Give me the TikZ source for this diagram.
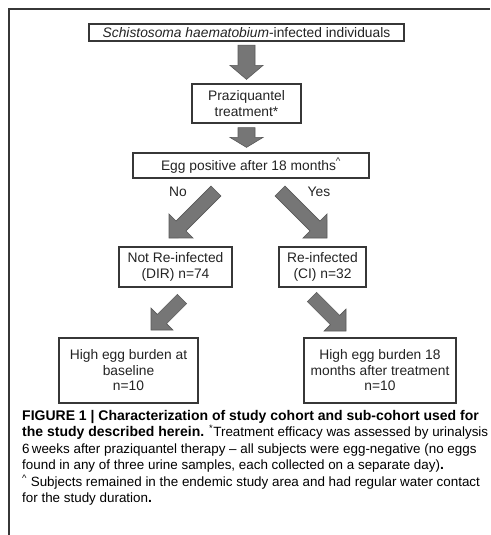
\documentclass[tikz,border=0pt]{standalone}
\usepackage{fontspec}
\setmainfont{Liberation Sans}
\usepackage{xcolor}
\usetikzlibrary{calc}
\definecolor{corSeta}{RGB}{118,118,118}
\definecolor{corBorda}{RGB}{55,55,55}
\definecolor{corTexto}{RGB}{35,35,35}
\newcommand{\negrito}[1]{{\fontsize{14}{16.5}\selectfont\bfseries #1}}

\begin{document}
\begin{tikzpicture}[x=1pt, y=-1pt,
      caixa/.style={rectangle, draw=corBorda, line width=1.2pt, align=center, inner sep=0pt,
        text=corTexto, font=\fontsize{13.8}{15.5}\selectfont},
      rotulo/.style={text=corTexto, font=\fontsize{13.8}{15.5}\selectfont},
      seta/.style n args={3}{fill=corSeta, draw=corSeta!75!black, line width=0.6pt, line join=miter,
        to path={let \p1=($(\tikztotarget)-(\tikztostart)$), \n1={atan2(\y1,\x1)}, \n2={veclen(\x1,\y1)} in
          (\tikztostart) ++(\n1+90:#1pt) -- ++(\n1:{\n2-#3pt}) -- ++(\n1+90:{#2pt-#1pt}) -- (\tikztotarget)
          -- ($(\tikztotarget)+(\n1+180:#3pt)+(\n1-90:#2pt)$) -- ++(\n1+90:{#2pt-#1pt}) -- ++(\n1+180:{\n2-#3pt}) -- cycle}},
      legenda/.style={align=left, inner sep=0pt, font=\fontsize{13.4}{16.5}\selectfont}]
    \useasboundingbox (0,0) rectangle (490,535);
    \draw[corBorda, line width=1.5pt] (9,535) -- (9,9) -- (490,9);

    \node[caixa, minimum width=315pt, minimum height=17pt] (infect) at (246.5,32.5) {\textit{Schistosoma haematobium}-infected individuals};
    \node[caixa, minimum width=109pt, minimum height=39pt] (treat) at (246.5,103.5) {Praziquantel\\treatment*};
    \node[caixa, minimum width=236pt, minimum height=25pt] (egg) at (251,165.5) {Egg positive after 18 months\textsuperscript{\^{}}};
    \node[caixa, minimum width=113pt, minimum height=40pt] (dir) at (175.5,267) {Not Re-infected\\(DIR) n=74};
    \node[caixa, minimum width=87pt, minimum height=40pt] (ci) at (322.5,267) {Re-infected\\(CI) n=32};
    \node[caixa, minimum width=139pt, minimum height=65pt] (base) at (128.5,370.5) {High egg burden at\\baseline\\n=10};
    \node[caixa, minimum width=152pt, minimum height=65pt] (after) at (380,370.5) {High egg burden 18\\months after treatment\\n=10};

    % ends of the slanted arrows
    \coordinate (naoIni) at (216,191); \coordinate (naoFim) at (169,238);
    \coordinate (simIni) at (280,191); \coordinate (simFim) at (327,238);
    \coordinate (baseIni) at (182,299); \coordinate (baseFim) at (151,330);
    \coordinate (altoIni) at (312,297); \coordinate (altoFim) at (346,331);

    \draw[seta={8.5}{16.5}{14}] ([yshift=-3.5pt]infect.south) to ([yshift=4pt]treat.north);
    \draw[seta={8.5}{16.5}{10}] ([yshift=-4pt]treat.south) to ([yshift=5pt]treat.south |- egg.north);
    \draw[seta={7}{17}{17}] (naoIni) to (naoFim);
    \draw[seta={7}{17}{17}] (simIni) to (simFim);
    \draw[seta={6.5}{15.5}{15.5}] (baseIni) to (baseFim);
    \draw[seta={6.5}{15.5}{15.5}] (altoIni) to (altoFim);

    \node[rotulo] (nao) at (178,192) {No};
    \node[rotulo] (sim) at (319,192) {Yes};

    \node[legenda, anchor=north west] (leg) at (22,410) {\negrito{FIGURE 1 | Characterization of study cohort and sub-cohort used for}\\
      \negrito{the study described herein.} \textsuperscript{*}Treatment efficacy was assessed by urinalysis\\
      6\,weeks after praziquantel therapy -- all subjects were egg-negative (no eggs\\
      found in any of three urine samples, each collected on a separate day)\negrito{.}\\
      \textsuperscript{\^{}} Subjects remained in the endemic study area and had regular water contact\\
      for the study duration\negrito{.}};
  \end{tikzpicture}
\end{document}
